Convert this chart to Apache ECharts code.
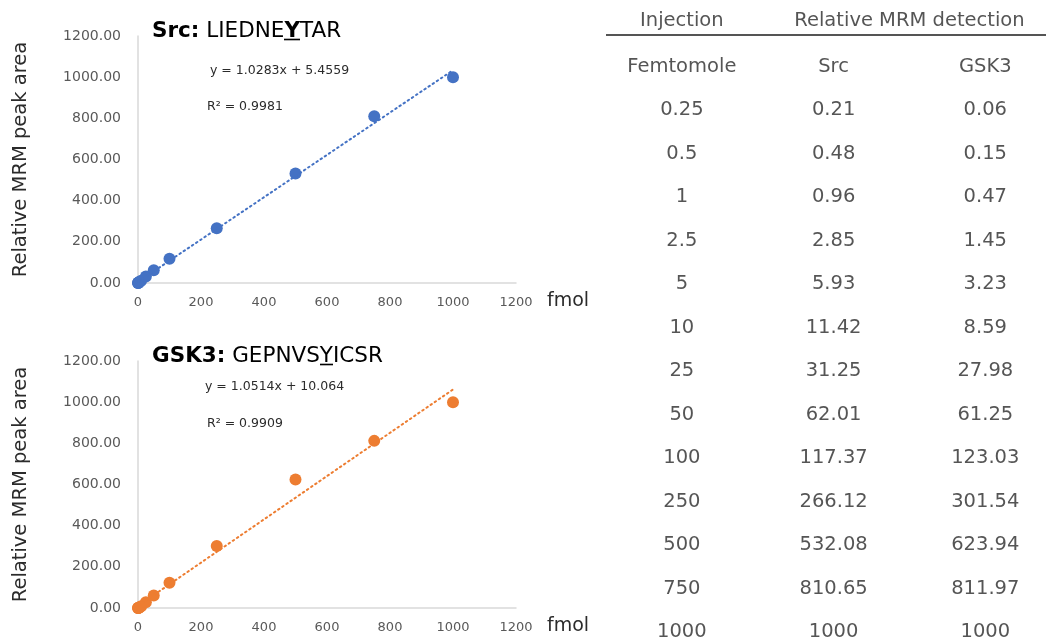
<!DOCTYPE html>
<html>
<head>
<meta charset="utf-8">
<script src="https://cdn.jsdelivr.net/npm/echarts@6/dist/echarts.min.js"></script>
<style>html,body{margin:0;padding:0;background:#fff;}#c{width:1047px;height:642px;}</style>
</head>
<body>
<div id="c"></div>
<script>
// ---- data ----
var injectionLabels = ['0.25','0.5','1','2.5','5','10','25','50','100','250','500','750','1000'];
var injection = [0.25, 0.5, 1, 2.5, 5, 10, 25, 50, 100, 250, 500, 750, 1000];
var srcValues = [0.21, 0.48, 0.96, 2.85, 5.93, 11.42, 31.25, 62.01, 117.37, 266.12, 532.08, 810.65, 1000];
var gskValues = [0.06, 0.15, 0.47, 1.45, 3.23, 8.59, 27.98, 61.25, 123.03, 301.54, 623.94, 811.97, 1000];
var xTicks = [0, 200, 400, 600, 800, 1000, 1200];
var yTicks = [0, 200, 400, 600, 800, 1000, 1200];
var srcFit = {slope: 1.0283, intercept: 5.4559, r2: '0.9981'};
var gskFit = {slope: 1.0514, intercept: 10.064, r2: '0.9909'};
var tableHeaders = ['Injection', 'Relative MRM detection'];
var columnHeaders = ['Femtomole', 'Src', 'GSK3'];

var BLUE = '#4472C4', ORANGE = '#ED7D31';
var FONT = 'DejaVu Sans';
var GREY = '#595959';
var TXT = '#2b2b2b';

function pts(xs, ys) { return xs.map(function (x, i) { return [x, ys[i]]; }); }
function fitLine(f) { return [[0, f.intercept], [1000, f.slope * 1000 + f.intercept]]; }

// underline image for rich-text token
var ul = document.createElement('canvas');
ul.width = 4; ul.height = 26;
(function () { var c = ul.getContext('2d'); c.fillStyle = '#000'; c.fillRect(0, 22, 4, 2); })();

function xAxisFor(gi) {
  return {
    type: 'value', gridIndex: gi, min: xTicks[0], max: xTicks[xTicks.length - 1], interval: 200,
    axisLine: {show: true, lineStyle: {color: '#d9d9d9', width: 1.5}},
    axisTick: {show: false}, splitLine: {show: false},
    axisLabel: {color: GREY, fontFamily: FONT, fontSize: 13, margin: 13, formatter: function (v) { return String(v); }},
    name: 'fmol', nameLocation: 'end', nameGap: 31,
    nameTextStyle: {color: TXT, fontFamily: FONT, fontSize: 19, verticalAlign: 'top', padding: [9, 0, 0, 0]}
  };
}
function yAxisFor(gi) {
  return {
    type: 'value', gridIndex: gi, min: yTicks[0], max: yTicks[yTicks.length - 1], interval: 200,
    axisLine: {show: true, lineStyle: {color: '#d9d9d9', width: 1.5}},
    axisTick: {show: false}, splitLine: {show: false},
    axisLabel: {color: GREY, fontFamily: FONT, fontSize: 14, margin: 17, formatter: function (v) { return v.toFixed(2); }},
    name: 'Relative MRM peak area', nameLocation: 'middle', nameGap: 107,
    nameTextStyle: {color: TXT, fontFamily: FONT, fontSize: 19.5}
  };
}

// table cells
var cells = [];
cells.push({value: [0, -1.07], t: tableHeaders[0]});
cells.push({value: [1.5, -1.07], t: tableHeaders[1]});
columnHeaders.forEach(function (h, i) { cells.push({value: [i, 0], t: h}); });
injectionLabels.forEach(function (lab, i) {
  cells.push({value: [0, i + 1], t: lab});
  cells.push({value: [1, i + 1], t: String(srcValues[i])});
  cells.push({value: [2, i + 1], t: String(gskValues[i])});
});

var richTitle = {
  b: {fontFamily: FONT, fontSize: 21.5, fontWeight: 'bold', color: '#000', lineHeight: 26},
  n: {fontFamily: FONT, fontSize: 21.5, fontWeight: 'normal', color: '#000', lineHeight: 26},
  bu: {fontFamily: FONT, fontSize: 21.5, fontWeight: 'bold', color: '#000', lineHeight: 26, backgroundColor: {image: ul}},
  nu: {fontFamily: FONT, fontSize: 21.5, fontWeight: 'normal', color: '#000', lineHeight: 26, backgroundColor: {image: ul}}
};
var eqStyle = {fontFamily: FONT, fontSize: 12.5, fontWeight: 'normal', color: TXT};
var option = {
  animation: false,
  backgroundColor: '#fff',
  title: [
    {left: 147, top: 13, text: '{b|Src:}{n| LIEDNE}{bu|Y}{n|TAR}', textStyle: {rich: richTitle}},
    {left: 205, top: 59, text: 'y = ' + srcFit.slope + 'x + ' + srcFit.intercept, textStyle: eqStyle},
    {left: 202, top: 95, text: 'R² = ' + srcFit.r2, textStyle: eqStyle},
    {left: 147, top: 338, text: '{b|GSK3:}{n| GEPNVS}{nu|Y}{n|ICSR}', textStyle: {rich: richTitle}},
    {left: 200, top: 375, text: 'y = ' + gskFit.slope + 'x + ' + gskFit.intercept, textStyle: eqStyle},
    {left: 202, top: 412, text: 'R² = ' + gskFit.r2, textStyle: eqStyle}
  ],
  grid: [
    {left: 138, top: 36, width: 378, height: 247},
    {left: 138, top: 361, width: 378, height: 247},
    {left: 606, top: 23.5, width: 440, height: 608.5}
  ],
  xAxis: [xAxisFor(0), xAxisFor(1),
    {type: 'value', gridIndex: 2, min: -0.5, max: 2.4, show: false}],
  yAxis: [yAxisFor(0), yAxisFor(1),
    {type: 'value', gridIndex: 2, min: -1, max: 13, inverse: true, show: false}],
  series: [
    {type: 'line', xAxisIndex: 0, yAxisIndex: 0, data: fitLine(srcFit), showSymbol: false, silent: true,
     lineStyle: {color: BLUE, width: 2, type: [1.5, 3.5], cap: 'round'}},
    {type: 'scatter', xAxisIndex: 0, yAxisIndex: 0, data: pts(injection, srcValues), symbolSize: 12,
     itemStyle: {color: BLUE, opacity: 1}},
    {type: 'line', xAxisIndex: 1, yAxisIndex: 1, data: fitLine(gskFit), showSymbol: false, silent: true,
     lineStyle: {color: ORANGE, width: 2, type: [1.5, 3.5], cap: 'round'}},
    {type: 'scatter', xAxisIndex: 1, yAxisIndex: 1, data: pts(injection, gskValues), symbolSize: 12,
     itemStyle: {color: ORANGE, opacity: 1}},
    {type: 'scatter', xAxisIndex: 2, yAxisIndex: 2, data: cells, symbolSize: 0, clip: false, silent: true,
     label: {show: true, position: 'inside', color: TXT, fontFamily: FONT, fontSize: 19.5,
       formatter: function (p) { return p.data.t; }},
     markLine: {silent: true, symbol: 'none', label: {show: false},
       lineStyle: {color: '#555', width: 2, type: 'solid'},
       data: [[{coord: [-0.5, -0.75]}, {coord: [2.4, -0.75]}]]}}
  ]
};
var chart = echarts.init(document.getElementById('c'), null, {renderer: 'canvas'});
chart.setOption(option);
</script>
</body>
</html>
